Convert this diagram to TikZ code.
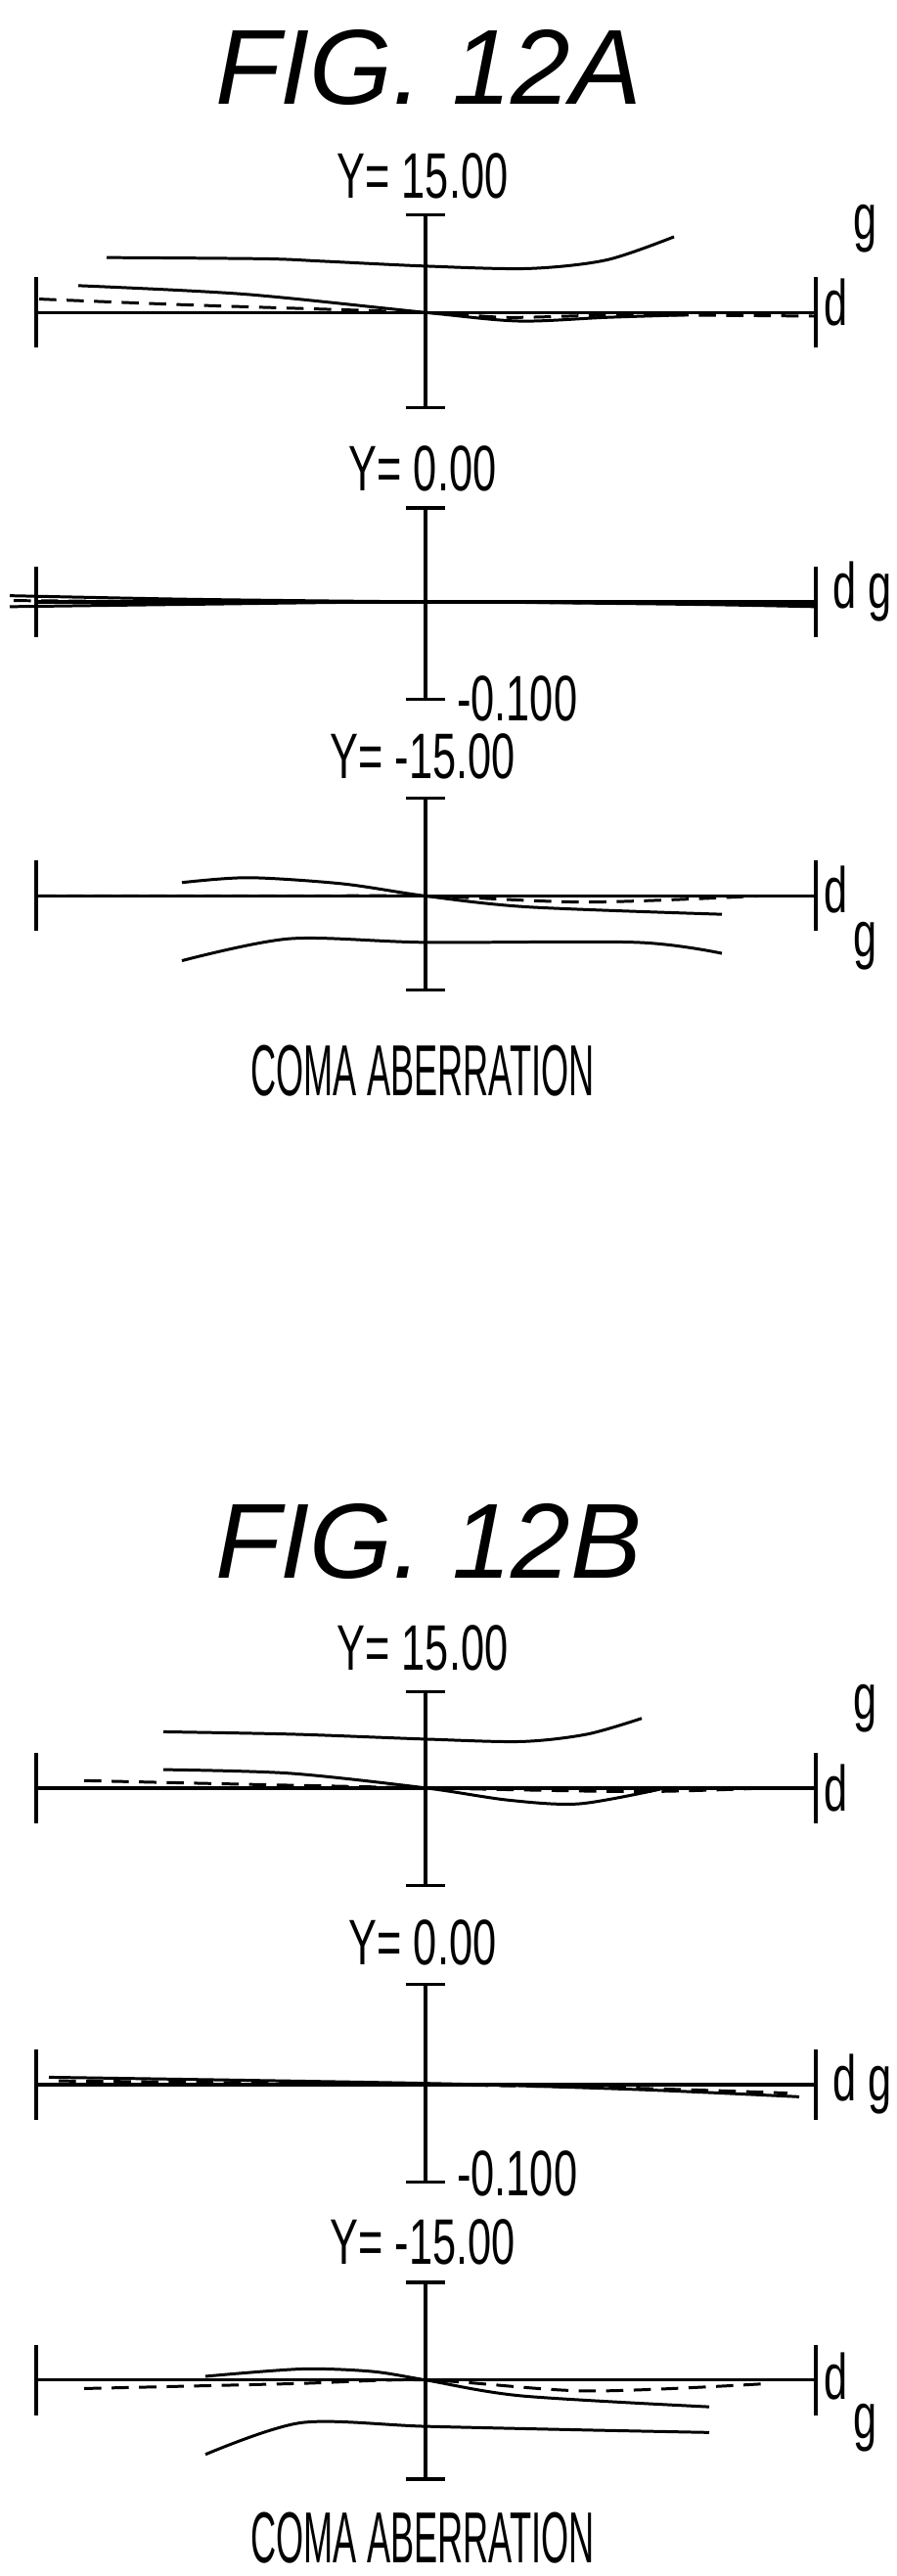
\documentclass[tikz,border=0pt]{standalone}
\usepackage{fontspec}
\setmainfont{Liberation Sans}
\begin{document}
\begin{tikzpicture}[x=0.1mm,y=-0.12472mm,line width=1pt,
  lbl/.style={inner sep=0pt,font=\fontsize{18.7}{18.7}\selectfont,xscale=0.66},
  ttl/.style={inner sep=0pt,font=\fontsize{31}{31}\selectfont\itshape},
  captext/.style={inner sep=0pt,font=\fontsize{21}{21}\selectfont,xscale=0.49},
  crv/.style={line width=0.85pt},
  dsh/.style={line width=0.85pt,dash pattern=on 5pt off 3pt}]
\useasboundingbox (0,0) rectangle (917,2110.3);
\foreach \ay/\ty/\by in {256/176/334,493/416/573,734/654/811,1762/1683/1842,2005/1923/2085,2247/2167/2328}{
  \pgfmathsetmacro\sh{\ay>1000 ? -297.3 : 0}
  \begin{scope}[shift={(0,\sh)}]
  \coordinate (L) at (37,\ay);
  \coordinate (R) at (834,\ay);
  \coordinate (T) at (435,\ty);
  \coordinate (Bt) at (435,\by);
  \draw (L) -- (R);
  \draw (T) -- (Bt);
  \draw ([xshift=-2mm]T) -- ([xshift=2mm]T);
  \draw ([xshift=-2mm]Bt) -- ([xshift=2mm]Bt);
  \draw ([yshift=3.6mm]L) -- ([yshift=-3.6mm]L);
  \draw ([yshift=3.6mm]R) -- ([yshift=-3.6mm]R);
  \end{scope}
}
% ================= FIG 12A =================
\node[ttl] (tA) at (438,55) {FIG. 12A};
\node[lbl] (a1) at (432,144) {Y= 15.00};
\node[lbl] (a2) at (432,384) {Y= 0.00};
\node[lbl] (a3) at (432,620) {Y= -15.00};
\node[lbl,anchor=west] (a4) at (466,572) {-0.100};
\node[lbl] (a1g) at (885,187) {g};
\node[lbl] (a1d) at (855,248) {d};
\node[lbl] (a2dg) at (882,485) {d g};
\node[lbl] (a3d) at (855,729) {d};
\node[lbl] (a3g) at (885,775) {g};
\node[captext] (ca) at (432,877) {COMA ABERRATION};
% A panel 1
\draw[crv] plot[smooth] coordinates {(109,211) (270,212) (330,214) (435,218) (540,220) (620,213) (689,194)};
\draw[crv] plot[smooth] coordinates {(80,234) (250,241) (435,256) (530,263) (620,260) (700,258)};
\draw[dsh] plot[smooth] coordinates {(40,245) (200,250) (435,256) (520,260) (640,258) (834,259)};
% A panel 2
\draw[crv] plot[smooth] coordinates {(10,488) (200,491) (435,493) (700,494) (834,496)};
\draw[crv] plot[smooth] coordinates {(10,497) (200,495) (435,493) (700,495) (834,497)};
\draw[dsh] plot[smooth] coordinates {(14,492) (200,493) (435,493) (834,495)};
% A panel 3
\draw[crv] plot[smooth] coordinates {(186,723) (254,719) (350,724) (435,734) (540,743) (738,749)};
\draw[crv] plot[smooth] coordinates {(186,787) (296,769) (435,772) (651,772) (738,781)};
\draw[dsh] plot[smooth] coordinates {(40,734) (300,734) (435,734) (600,739) (775,734)};
% ================= FIG 12B =================
\begin{scope}[shift={(0,-297.3)}]
\node[ttl] (tB) at (438,1560) {FIG. 12B};
\node[lbl] (b1) at (432,1647) {Y= 15.00};
\node[lbl] (b2) at (432,1889) {Y= 0.00};
\node[lbl] (b3) at (432,2134) {Y= -15.00};
\node[lbl,anchor=west] (b4) at (466,2078) {-0.100};
\node[lbl] (b1g) at (885,1697) {g};
\node[lbl] (b1d) at (855,1762) {d};
\node[lbl] (b2dg) at (882,2005) {d g};
\node[lbl] (b3d) at (855,2244) {d};
\node[lbl] (b3g) at (885,2286) {g};
\node[captext] (cb) at (432,2376) {COMA ABERRATION};
% B panel 1
\draw[crv] plot[smooth] coordinates {(167,1716) (300,1718) (435,1722) (533,1724) (600,1718) (656,1705)};
\draw[crv] plot[smooth] coordinates {(167,1747) (296,1750) (435,1762) (520,1772) (592,1775) (675,1763)};
\draw[dsh] plot[smooth] coordinates {(86,1756) (250,1759) (435,1762) (651,1765) (785,1762)};
% B panel 2
\draw[crv] plot[smooth] coordinates {(50,1999) (435,2004) (650,2009) (817,2015)};
\draw[dsh] plot[smooth] coordinates {(60,2002) (435,2005) (650,2008) (805,2012)};
% B panel 3
\draw[crv] plot[smooth] coordinates {(210,2244) (308,2238) (380,2240) (435,2247) (533,2260) (725,2269)};
\draw[crv] plot[smooth] coordinates {(210,2308) (308,2282) (435,2285) (600,2288) (725,2290)};
\draw[dsh] plot[smooth] coordinates {(86,2254) (300,2250) (435,2247) (600,2256) (784,2250)};
\end{scope}
\end{tikzpicture}
\end{document}
